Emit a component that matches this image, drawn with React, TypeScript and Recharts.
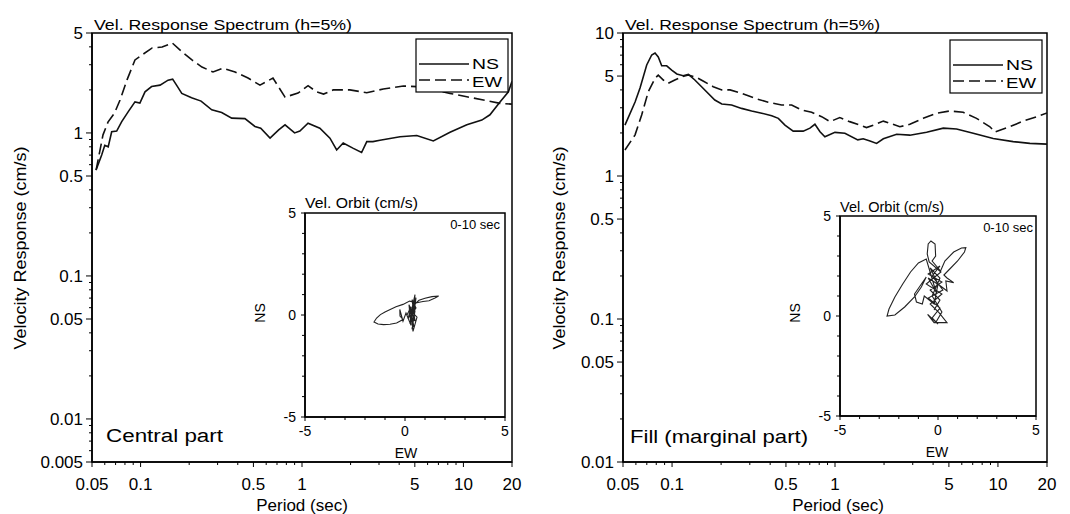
import React from 'react';
import { LineChart, Line, XAxis, YAxis, ReferenceArea } from 'recharts';

const FONT = '"Liberation Sans", Arial, Helvetica, sans-serif';

// ---------- Left panel (Central part) ----------
const leftNSPeriod = [0.053, 0.0574, 0.06, 0.063, 0.0662, 0.0711, 0.0764, 0.0839, 0.0923, 0.099, 0.1065, 0.117, 0.132, 0.148, 0.158, 0.167, 0.18, 0.207, 0.237, 0.276, 0.318, 0.367, 0.443, 0.511, 0.555, 0.634, 0.717, 0.785, 0.9, 0.97, 1.09, 1.29, 1.49, 1.64, 1.8, 2.08, 2.34, 2.52, 2.75, 3.04, 4.05, 5.14, 6.51, 8.26, 10.5, 13.0, 14.6, 16.9, 19.0, 20];
const leftNSVel = [0.55, 0.7, 0.82, 0.8, 1.02, 1.03, 1.2, 1.41, 1.65, 1.62, 1.94, 2.11, 2.16, 2.34, 2.38, 2.16, 1.89, 1.76, 1.67, 1.45, 1.39, 1.27, 1.26, 1.11, 1.08, 0.92, 1.05, 1.14, 1.0, 1.03, 1.17, 1.08, 0.92, 0.76, 0.85, 0.78, 0.73, 0.87, 0.87, 0.89, 0.94, 0.96, 0.88, 1.01, 1.14, 1.23, 1.34, 1.65, 1.94, 2.3];
const leftEWPeriod = [0.053, 0.0585, 0.0628, 0.069, 0.0746, 0.0824, 0.0923, 0.102, 0.118, 0.136, 0.157, 0.181, 0.208, 0.24, 0.281, 0.324, 0.385, 0.463, 0.549, 0.661, 0.785, 0.945, 1.04, 1.09, 1.23, 1.36, 1.56, 1.98, 2.52, 3.19, 4.25, 5.14, 6.51, 8.26, 10.5, 13.3, 16.9, 20];
const leftEWVel = [0.55, 0.97, 1.19, 1.38, 1.7, 2.35, 3.24, 3.51, 3.93, 3.99, 4.26, 3.68, 3.24, 2.89, 2.67, 2.84, 2.67, 2.42, 2.16, 2.42, 1.78, 1.9, 2.06, 2.14, 1.94, 1.87, 2.0, 2.0, 1.91, 2.03, 2.13, 2.11, 2.0, 1.89, 1.79, 1.7, 1.61, 1.59];

// ---------- Right panel (Fill, marginal part) ----------
const rightNSPeriod = [0.0514, 0.0593, 0.0636, 0.0699, 0.075, 0.0786, 0.0823, 0.0864, 0.0927, 0.0995, 0.107, 0.117, 0.126, 0.138, 0.155, 0.183, 0.202, 0.232, 0.267, 0.308, 0.355, 0.409, 0.449, 0.493, 0.554, 0.638, 0.702, 0.753, 0.809, 0.867, 0.999, 1.15, 1.38, 1.49, 1.64, 1.8, 1.98, 2.39, 2.88, 3.65, 4.62, 5.57, 7.05, 9.35, 12.4, 15.7, 20];
const rightNSVel = [2.27, 3.29, 4.13, 5.98, 7.02, 7.24, 6.8, 5.9, 5.9, 5.51, 5.17, 5.03, 5.14, 4.69, 4.11, 3.4, 3.19, 3.14, 2.97, 2.85, 2.75, 2.64, 2.53, 2.27, 2.06, 2.06, 2.16, 2.3, 2.04, 1.88, 2.02, 1.99, 1.79, 1.82, 1.76, 1.69, 1.82, 1.96, 1.93, 2.02, 2.16, 2.13, 1.99, 1.83, 1.74, 1.69, 1.67];
const rightEWPeriod = [0.0514, 0.0593, 0.0651, 0.0715, 0.0786, 0.0823, 0.0884, 0.0948, 0.104, 0.115, 0.126, 0.142, 0.155, 0.179, 0.202, 0.227, 0.267, 0.323, 0.389, 0.47, 0.542, 0.624, 0.719, 0.828, 0.931, 1.07, 1.23, 1.42, 1.56, 1.72, 1.98, 2.17, 2.5, 2.88, 3.48, 4.2, 5.07, 6.12, 7.39, 8.93, 9.57, 11.8, 14.3, 17.3, 20];
const rightEWVel = [1.52, 1.94, 2.67, 3.89, 4.82, 5.08, 4.69, 4.45, 4.69, 4.95, 5.08, 4.87, 4.62, 4.21, 4.0, 4.0, 3.79, 3.49, 3.28, 3.14, 3.14, 2.89, 2.79, 2.6, 2.4, 2.56, 2.4, 2.27, 2.18, 2.27, 2.42, 2.34, 2.21, 2.3, 2.53, 2.75, 2.85, 2.79, 2.53, 2.21, 2.03, 2.21, 2.42, 2.6, 2.76];

// ---------- Velocity orbits (0-10 sec), cm/s ----------
const leftOrbitEW = [0.1, 0.3, 0.15, 0.45, 0.25, 0.55, 0.35, 0.5, 0.2, 0.6, 0.4, 0.3, 0.5, 0.45, 0.7, 1.0, 1.35, 1.68, 1.5, 1.2, 0.9, 0.6, 0.23, -0.1, -0.45, -0.74, -1.0, -1.23, -1.42, -1.55, -1.35, -1.07, -0.75, -0.42, -0.1, -0.25, -0.26, -0.1, 0.05, 0.3, 0.2, 0.5, 0.35, 0.55, 0.25, 0.45, 0.3];
const leftOrbitNS = [0.0, 0.4, -0.2, 0.6, -0.45, 0.85, -0.7, 0.2, 0.3, -0.1, -0.8, 0.1, 1.0, 0.5, 0.72, 0.82, 0.9, 0.93, 0.83, 0.7, 0.66, 0.6, 0.68, 0.52, 0.4, 0.27, 0.15, 0.02, -0.15, -0.34, -0.44, -0.47, -0.45, -0.39, -0.22, -0.05, 0.27, -0.3, 0.1, -0.5, 0.5, -0.3, 0.75, 0.35, -0.1, -0.6, 0.2];
const rightOrbitEW = [-0.2, 0.1, -0.4, 0.2, -0.5, 0.1, -0.3, 0.25, -0.5, 0.1, -0.3, 0.0, -0.53, -0.2, 0.46, 0.05, -0.4, 0.2, -0.6, 0.15, -0.45, -0.55, -0.5, -0.36, -0.15, -0.12, -0.3, 0.13, 0.35, 0.8, 1.2, 1.42, 1.35, 1.0, 0.6, 0.3, 0.46, 0.8, 0.4, 0.46, 0.13, -0.5, -0.1, -0.6, -1.0, -1.4, -1.8, -2.2, -2.5, -2.6, -2.2, -1.7, -1.2, -0.85, -0.6, -1.2, -1.1, -0.8, -0.7, -0.2, 0.0, -0.4, 0.1, -0.3, 0.2, -0.1];
const rightOrbitNS = [0.3, 0.8, 1.3, 1.7, 2.1, 2.5, 2.0, 1.3, 0.9, 0.4, -0.1, -0.4, 0.08, -0.33, -0.33, 0.17, 0.6, 1.1, 1.6, 2.2, 2.7, 3.1, 3.6, 3.75, 3.6, 3.0, 2.75, 2.25, 2.75, 3.2, 3.4, 3.42, 3.2, 2.75, 2.35, 2.05, 1.9, 1.67, 1.75, 1.25, 1.5, 1.9, 1.2, 2.85, 2.65, 2.2, 1.6, 0.95, 0.35, 0.0, 0.05, 0.45, 0.95, 1.45, 1.95, 1.1, 0.7, 0.6, 1.0, 0.6, 1.6, 2.4, 1.9, 1.0, 0.2, -0.3];

// ---------- Tick values ----------
const periodMajor = [0.05, 0.1, 0.5, 1, 5, 10, 20];
const periodMinor = [0.06, 0.07, 0.08, 0.09, 0.2, 0.3, 0.4, 0.6, 0.7, 0.8, 0.9, 2, 3, 4, 6, 7, 8, 9];
const leftVelMajor = [0.005, 0.01, 0.05, 0.1, 0.5, 1, 5];
const leftVelMinor = [0.006, 0.007, 0.008, 0.009, 0.02, 0.03, 0.04, 0.06, 0.07, 0.08, 0.09, 0.2, 0.3, 0.4, 0.6, 0.7, 0.8, 0.9, 2, 3, 4];
const rightVelMajor = [0.01, 0.05, 0.1, 0.5, 1, 5, 10];
const rightVelMinor = [0.02, 0.03, 0.04, 0.06, 0.07, 0.08, 0.09, 0.2, 0.3, 0.4, 0.6, 0.7, 0.8, 0.9, 2, 3, 4, 6, 7, 8, 9];
const orbitMajor = [-5, 0, 5];
const orbitMinor = [-4, -3, -2, -1, 1, 2, 3, 4];

const spec = (xs: number[], ys: number[]) => xs.map((x, i) => ({ period: x, vel: ys[i] }));
const orbit = (xs: number[], ys: number[]) => xs.map((x, i) => ({ ew: x, ns: ys[i] }));

const leftNS = spec(leftNSPeriod, leftNSVel);
const leftEW = spec(leftEWPeriod, leftEWVel);
const rightNS = spec(rightNSPeriod, rightNSVel);
const rightEW = spec(rightEWPeriod, rightEWVel);
const leftOrbit = orbit(leftOrbitEW, leftOrbitNS);
const rightOrbit = orbit(rightOrbitEW, rightOrbitNS);

const isIn = (arr: number[], v: number) => arr.some((m) => Math.abs(m - v) < 1e-9);

const makeXTick = (majors: number[], fontSize: number, dy: number, majorLen: number, minorLen: number) => (props: any) => {
  const { x, y, payload } = props;
  const v = payload.value;
  const major = isIn(majors, v);
  return (
    <g>
      <line x1={x} y1={y} x2={x} y2={y + (major ? majorLen : minorLen)} stroke="#000" strokeWidth={1} />
      {major && (
        <text x={x} y={y + dy} textAnchor="middle" fontSize={fontSize} fontFamily={FONT} fill="#000">
          {String(v)}
        </text>
      )}
    </g>
  );
};

const makeYTick = (majors: number[], fontSize: number, dx: number, majorLen: number, minorLen: number) => (props: any) => {
  const { x, y, payload } = props;
  const v = payload.value;
  const major = isIn(majors, v);
  return (
    <g>
      <line x1={x} y1={y} x2={x - (major ? majorLen : minorLen)} y2={y} stroke="#000" strokeWidth={1} />
      {major && (
        <text x={x - dx} y={y} dy="0.36em" textAnchor="end" fontSize={fontSize} fontFamily={FONT} fill="#000">
          {String(v)}
        </text>
      )}
    </g>
  );
};

const SpecXTick = makeXTick(periodMajor, 17, 28, 5, 3);
const LeftYTick = makeYTick(leftVelMajor, 17, 9, 6, 3);
const RightYTick = makeYTick(rightVelMajor, 17, 9, 6, 3);
const OrbXTick = makeXTick(orbitMajor, 14, 19, 4, 3);
const OrbYTick = makeYTick(orbitMajor, 14, 9, 4, 3);

function SpectrumPanel(props: {
  left: number;
  ns: any[];
  ew: any[];
  yDomain: [number, number];
  yTicks: number[];
  yTick: any;
  yWidth: number;
}) {
  const { left, ns, ew, yDomain, yTicks, yTick, yWidth } = props;
  return (
    <div style={{ position: 'absolute', left, top: 0 }}>
      <LineChart width={535} height={514} margin={{ top: 33, right: 23, bottom: 0, left: 0 }}>
        <XAxis
          type="number"
          dataKey="period"
          scale="log"
          domain={[0.05, 20]}
          allowDataOverflow
          ticks={[...periodMajor, ...periodMinor]}
          interval={0}
          tickSize={0}
          tickMargin={0}
          tickLine={false}
          axisLine={{ stroke: '#000', strokeWidth: 1.5 }}
          height={52}
          tick={SpecXTick}
        />
        <YAxis
          type="number"
          dataKey="vel"
          scale="log"
          domain={yDomain}
          allowDataOverflow
          ticks={yTicks}
          interval={0}
          tickSize={0}
          tickMargin={0}
          tickLine={false}
          axisLine={{ stroke: '#000', strokeWidth: 1.5 }}
          width={yWidth}
          tick={yTick}
        />
        <ReferenceArea x1={0.05} x2={20} y1={yDomain[0]} y2={yDomain[1]} fill="none" stroke="#000" strokeWidth={1.5} />
        <Line data={ew} dataKey="vel" stroke="#111" strokeWidth={1.6} strokeDasharray="11 5" dot={false} isAnimationActive={false} type="linear" />
        <Line data={ns} dataKey="vel" stroke="#111" strokeWidth={1.6} dot={false} isAnimationActive={false} type="linear" />
      </LineChart>
    </div>
  );
}

function OrbitInset(props: { left: number; top: number; width: number; height: number; data: any[] }) {
  const { left, top, width, height, data } = props;
  return (
    <div style={{ position: 'absolute', left, top }}>
      <LineChart width={width} height={height} margin={{ top: 13, right: 7, bottom: 0, left: 13 }}>
        <XAxis
          type="number"
          dataKey="ew"
          domain={[-5, 5]}
          allowDataOverflow
          ticks={[...orbitMajor, ...orbitMinor]}
          interval={0}
          tickSize={0}
          tickMargin={0}
          tickLine={false}
          axisLine={{ stroke: '#000', strokeWidth: 1.5 }}
          height={43}
          tick={OrbXTick}
        />
        <YAxis
          type="number"
          dataKey="ns"
          domain={[-5, 5]}
          allowDataOverflow
          ticks={[...orbitMajor, ...orbitMinor]}
          interval={0}
          tickSize={0}
          tickMargin={0}
          tickLine={false}
          axisLine={{ stroke: '#000', strokeWidth: 1.5 }}
          width={50}
          tick={OrbYTick}
        />
        <ReferenceArea x1={-5} x2={5} y1={-5} y2={5} fill="none" stroke="#000" strokeWidth={1.5} />
        <Line data={data} dataKey="ns" stroke="#222" strokeWidth={1.1} dot={false} isAnimationActive={false} type="linear" />
      </LineChart>
    </div>
  );
}

function LegendBox({ x, y }: { x: number; y: number }) {
  return (
    <g>
      <rect x={x} y={y} width={92} height={53} fill="#fff" stroke="#000" strokeWidth={1.2} />
      <line x1={x + 3} y1={y + 25} x2={x + 53} y2={y + 25} stroke="#111" strokeWidth={1.6} />
      <text x={x + 56} y={y + 30} fontSize={15} fontFamily={FONT} textLength={27} lengthAdjust="spacingAndGlyphs">NS</text>
      <line x1={x + 3} y1={y + 41} x2={x + 53} y2={y + 41} stroke="#111" strokeWidth={1.6} strokeDasharray="11 5" />
      <text x={x + 56} y={y + 48} fontSize={15} fontFamily={FONT} textLength={30} lengthAdjust="spacingAndGlyphs">EW</text>
    </g>
  );
}

export default function App() {
  return (
    <div style={{ position: 'absolute', left: 0, top: 0, width: 1070, height: 514, background: '#fff', overflow: 'hidden', fontFamily: FONT }}>
      <SpectrumPanel left={0} ns={leftNS} ew={leftEW} yDomain={[0.005, 5]} yTicks={[...leftVelMajor, ...leftVelMinor]} yTick={LeftYTick} yWidth={92} />
      <SpectrumPanel left={535} ns={rightNS} ew={rightEW} yDomain={[0.01, 10]} yTicks={[...rightVelMajor, ...rightVelMinor]} yTick={RightYTick} yWidth={88} />
      <OrbitInset left={242} top={200} width={270} height={260} data={leftOrbit} />
      <OrbitInset left={777} top={203} width={266} height={256} data={rightOrbit} />
      <svg width={1070} height={514} style={{ position: 'absolute', left: 0, top: 0, pointerEvents: 'none' }}>
        <g fontFamily={FONT} fill="#000">
          <text x={94} y={30} fontSize={15} textLength={258} lengthAdjust="spacingAndGlyphs">Vel. Response Spectrum (h=5%)</text>
          <text x={625} y={30} fontSize={15} textLength={255} lengthAdjust="spacingAndGlyphs">Vel. Response Spectrum (h=5%)</text>
          <text x={0} y={0} fontSize={17} textAnchor="middle" dy="0.35em" transform="translate(20,248) rotate(-90)" textLength={203} lengthAdjust="spacingAndGlyphs">Velocity Response (cm/s)</text>
          <text x={0} y={0} fontSize={17} textAnchor="middle" dy="0.35em" transform="translate(559,248) rotate(-90)" textLength={203} lengthAdjust="spacingAndGlyphs">Velocity Response (cm/s)</text>
          <text x={302} y={511} fontSize={17} textAnchor="middle">Period (sec)</text>
          <text x={838} y={511} fontSize={17} textAnchor="middle">Period (sec)</text>
          <text x={305} y={208} fontSize={14} textLength={113} lengthAdjust="spacingAndGlyphs">Vel. Orbit (cm/s)</text>
          <text x={840} y={212} fontSize={14} textLength={104} lengthAdjust="spacingAndGlyphs">Vel. Orbit (cm/s)</text>
          <text x={500} y={229} fontSize={13} textAnchor="end">0-10 sec</text>
          <text x={1033} y={232} fontSize={13} textAnchor="end">0-10 sec</text>
          <text x={0} y={0} fontSize={14} textAnchor="middle" dy="0.35em" transform="translate(260,313) rotate(-90)">NS</text>
          <text x={0} y={0} fontSize={14} textAnchor="middle" dy="0.35em" transform="translate(795,313) rotate(-90)">NS</text>
          <text x={406} y={458} fontSize={14} textAnchor="middle">EW</text>
          <text x={937} y={457} fontSize={14} textAnchor="middle">EW</text>
          <text x={106} y={442} fontSize={18} textLength={117} lengthAdjust="spacingAndGlyphs">Central part</text>
          <text x={630} y={443} fontSize={19} textLength={178} lengthAdjust="spacingAndGlyphs">Fill (marginal part)</text>
        </g>
        <LegendBox x={416} y={39} />
        <LegendBox x={950} y={40} />
      </svg>
    </div>
  );
}
